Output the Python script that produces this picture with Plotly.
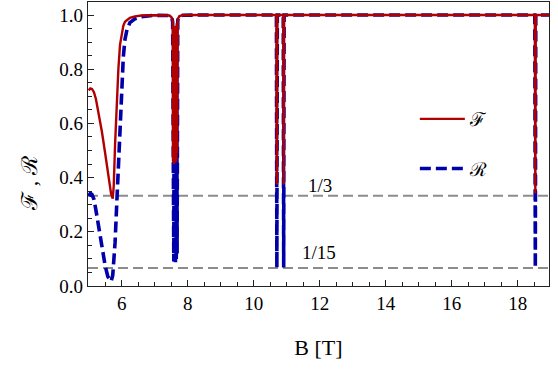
import plotly.graph_objects as go

# Magnetic field [T]
B_T = [5.00, 5.05, 5.10, 5.16, 5.22, 5.30, 5.40, 5.50, 5.58, 5.64, 5.68, 5.73,
       5.76, 5.80, 5.85, 5.90, 5.95, 6.00, 6.05, 6.10, 6.16, 6.25, 6.40, 6.60,
       7.00, 7.45,
       7.52, 7.545, 7.555, 7.567, 7.58, 7.593, 7.605, 7.618, 7.63, 7.643, 7.655,
       7.668, 7.68, 7.70, 7.75, 7.85, 8.30,
       10.69, 10.703, 10.717,
       10.897, 10.91, 10.923,
       14.00,
       18.52, 18.535, 18.55, 18.95]

# Fidelity F(B)
fidelity = [0.722, 0.729, 0.727, 0.715, 0.690, 0.640, 0.570, 0.490, 0.420, 0.370, 0.340, 0.322,
            0.370, 0.520, 0.670, 0.800, 0.890, 0.935, 0.960, 0.975, 0.982, 0.990, 0.995, 0.998,
            0.999, 0.998,
            0.990, 0.980, 0.460, 0.960, 0.450, 0.950, 0.460, 0.955, 0.455, 0.960, 0.460,
            0.970, 0.490, 0.985, 0.996, 0.999, 1.000,
            1.000, 0.375, 1.000,
            1.000, 0.375, 1.000,
            1.000,
            1.000, 0.341, 1.000, 1.000]

# R(B)
reflect = [0.332, 0.342, 0.338, 0.320, 0.280, 0.220, 0.140, 0.075, 0.035, 0.020, 0.017, 0.040,
           0.080, 0.160, 0.300, 0.440, 0.590, 0.730, 0.845, 0.910, 0.945, 0.972, 0.986, 0.994,
           0.999, 0.998,
           0.990, 0.975, 0.100, 0.950, 0.090, 0.940, 0.095, 0.945, 0.088, 0.950, 0.100,
           0.960, 0.120, 0.980, 0.995, 0.999, 1.000,
           1.000, 0.068, 1.000,
           1.000, 0.068, 1.000,
           1.000,
           1.000, 0.068, 1.000, 1.000]

# Reference levels and their labels
ref_levels = [1 / 3, 1 / 15]
ref_labels = ["1/3", "1/15"]
ref_label_pos = [(12.0, 0.372), (11.97, 0.124)]

x_ticks = [6, 8, 10, 12, 14, 16, 18]
y_ticks = [0.0, 0.2, 0.4, 0.6, 0.8, 1.0]

SERIF = "Liberation Serif, Times New Roman, serif"
RED = "#B00000"
BLUE = "#0000AA"

fig = go.Figure()

fig.add_trace(go.Scatter(
    x=B_T, y=reflect, mode="lines", name="ℛ", legendgroup="r", legendrank=2,
    line=dict(color=BLUE, width=3.6, dash="11px,5px"),
))
fig.add_trace(go.Scatter(
    x=B_T, y=fidelity, mode="lines", name="ℱ", legendgroup="f", legendrank=1,
    line=dict(color=RED, width=2.4),
))

for lvl in ref_levels:
    fig.add_shape(type="line", xref="paper", x0=0, x1=1, yref="y", y0=lvl, y1=lvl,
                  line=dict(color="#8C8C8C", width=2, dash="10px,5px"), layer="below")

for txt, (bx, by) in zip(ref_labels, ref_label_pos):
    fig.add_annotation(x=bx, y=by, text=txt, showarrow=False,
                       font=dict(family=SERIF, size=19, color="black"))

# Vertical axis title, placed left of the tick labels
fig.add_annotation(xref="paper", yref="paper", x=-0.126, y=0.363,
                   xanchor="center", yanchor="middle", textangle=-90,
                   text="ℱ , ℛ", showarrow=False,
                   font=dict(family=SERIF, size=22, color="black"))

axis_common = dict(
    showline=True, linecolor="#222222", linewidth=1.2, mirror=True,
    ticks="inside", ticklen=6, tickwidth=1, tickcolor="#222222",
    showgrid=False, zeroline=False,
    tickfont=dict(family=SERIF, size=19, color="black"),
)

fig.update_layout(
    width=558, height=369,
    margin=dict(l=88, r=9, t=2, b=83),
    paper_bgcolor="white", plot_bgcolor="white",
    xaxis=dict(
        range=[4.98, 18.95], tickvals=x_ticks,
        minor=dict(ticks="inside", ticklen=3.5, dtick=0.5, tick0=5, tickcolor="#222222"),
        title=dict(text="B [T]", font=dict(family=SERIF, size=22, color="black"), standoff=26),
        **axis_common,
    ),
    yaxis=dict(
        range=[0, 1.048], tickvals=y_ticks, tickformat=".1f",
        minor=dict(ticks="inside", ticklen=3.5, dtick=0.05, tick0=0, tickcolor="#222222"),
        **axis_common,
    ),
    legend=dict(
        x=0.709, y=0.655, xanchor="left", yanchor="top",
        traceorder="grouped", tracegroupgap=22,
        bgcolor="rgba(0,0,0,0)",
        font=dict(family=SERIF, size=19, color="black"),
        itemwidth=45,
    ),
)

fig.write_html("out.html")
